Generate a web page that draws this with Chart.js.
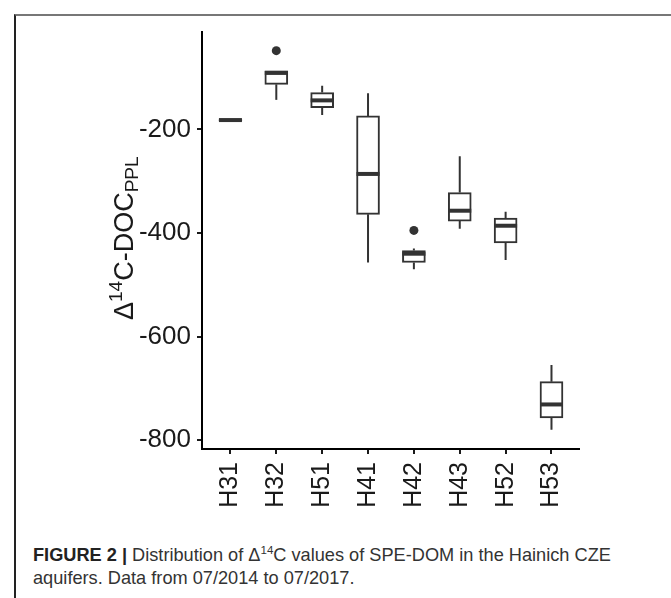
<!DOCTYPE html>
<html>
<head>
<meta charset="utf-8">
<script src="https://cdn.jsdelivr.net/npm/chart.js@4.4.1/dist/chart.umd.min.js"></script>
<style>
  html, body { margin: 0; padding: 0; background: #fff; }
  body { width: 671px; height: 598px; position: relative; overflow: hidden; font-family: "Liberation Sans", Arial, sans-serif; }
  .frame { position: absolute; left: 14px; top: 14px; right: -4px; bottom: -4px; border-top: 2px solid #777; border-left: 2px solid #222; }
  #chart { position: absolute; left: 0; top: 0; }
  .caption { position: absolute; left: 33px; top: 544px; font-size: 18.2px; line-height: 23px; color: #333; white-space: nowrap; }
  .caption b { color: #222; }
  .caption sup { font-size: 11.5px; line-height: 0; vertical-align: 7px; }
</style>
</head>
<body>
<div class="frame"></div>
<canvas id="chart" width="671" height="530"></canvas>
<div class="caption"><b>FIGURE 2 |</b> Distribution of &Delta;<sup>14</sup>C values of SPE-DOM in the Hainich CZE<br>aquifers. Data from 07/2014 to 07/2017.</div>
<script>
// wells, left to right
const categories = ['H31', 'H32', 'H51', 'H41', 'H42', 'H43', 'H52', 'H53'];

// box plot stats
const whiskerLow  = [-183, -143, -172, -457, -470, -392, -452, -780];
const q1          = [-183, -113, -158, -364, -457, -377, -419, -757];
const median      = [-182,  -91, -144, -286, -440, -357, -386, -731];
const q3          = [-181,  -87, -129, -174, -434, -322, -371, -687];
const whiskerHigh = [-181,  -87, -116, -130, -430, -252, -359, -655];

// outliers: index into categories + value
const outlierIdx = [1, 4];
const outlierVal = [-48, -395];

const yTicks = [-200, -400, -600, -800];

const INK = '#333';

const whiskerPlugin = {
    id: 'whiskers',
    afterDatasetsDraw(chart) {
        const { ctx, scales: { x, y } } = chart;
        const bars = chart.getDatasetMeta(0).data;
        ctx.save();
        ctx.strokeStyle = INK;
        categories.forEach((c, i) => {
            const px = x.getPixelForValue(i);
            const w = bars[i] ? bars[i].width : 23;
            ctx.lineWidth = 2;
            ctx.beginPath();
            ctx.moveTo(px, y.getPixelForValue(whiskerHigh[i]));
            ctx.lineTo(px, y.getPixelForValue(q3[i]));
            ctx.moveTo(px, y.getPixelForValue(q1[i]));
            ctx.lineTo(px, y.getPixelForValue(whiskerLow[i]));
            ctx.stroke();
            ctx.lineWidth = 4;
            ctx.beginPath();
            const my = y.getPixelForValue(median[i]);
            ctx.moveTo(px - w / 2, my);
            ctx.lineTo(px + w / 2, my);
            ctx.stroke();
        });
        ctx.restore();
    }
};

// y title with super/subscripts
const yTitlePlugin = {
    id: 'yTitle',
    afterDraw(chart) {
        const ctx = chart.ctx;
        const parts = [
            { t: '\u0394', size: 27, dy: 0 },
            { t: '14', size: 19, dy: -11 },
            { t: 'C-DOC', size: 27, dy: 0 },
            { t: 'PPL', size: 19, dy: 5 },
        ];
        ctx.save();
        ctx.translate(133, 320);
        ctx.rotate(-Math.PI / 2);
        ctx.fillStyle = '#1a1a1a';
        ctx.textBaseline = 'alphabetic';
        ctx.textAlign = 'left';
        let cx = 0;
        parts.forEach(p => {
            ctx.font = p.size + 'px "Liberation Sans", Arial, sans-serif';
            ctx.fillText(p.t, cx, p.dy);
            cx += ctx.measureText(p.t).width;
        });
        ctx.restore();
    }
};

new Chart(document.getElementById('chart'), {
    type: 'bar',
    data: {
        datasets: [
            {
                type: 'bar',
                data: categories.map((c, i) => ({ x: i, y: [q1[i], q3[i]] })),
                backgroundColor: '#fff',
                borderColor: INK,
                borderWidth: 2,
                borderSkipped: false,
                barThickness: 23,
            },
            {
                type: 'scatter',
                data: outlierIdx.map((k, j) => ({ x: k, y: outlierVal[j] })),
                backgroundColor: INK,
                borderWidth: 0,
                pointRadius: 4.5,
            },
        ],
    },
    options: {
        responsive: false,
        animation: false,
        layout: { padding: { left: 0, top: 32, right: 92, bottom: 0 } },
        plugins: { legend: { display: false }, tooltip: { enabled: false } },
        scales: {
            x: {
                type: 'linear',
                offset: false,
                min: -0.62,
                max: 7.6,
                afterBuildTicks: (s) => { s.ticks = categories.map((c, i) => ({ value: i })); },
                afterFit: (s) => { s.height = 81; },
                ticks: {
                    callback: (v) => categories[v],
                    minRotation: 90,
                    maxRotation: 90,
                    padding: 8,
                    color: '#1a1a1a',
                    font: { size: 25, family: '"Liberation Sans", Arial, sans-serif' },
                },
                grid: { offset: false, drawOnChartArea: false, drawTicks: true, tickLength: 5, color: '#1a1a1a', lineWidth: 2 },
                border: { display: true, color: '#000', width: 2 },
            },
            y: {
                min: -817,
                max: -12,
                afterBuildTicks: (s) => { s.ticks = yTicks.map(v => ({ value: v })); },
                afterFit: (s) => { s.width = 202; },
                ticks: {
                    padding: 6,
                    color: '#1a1a1a',
                    font: { size: 26, family: '"Liberation Sans", Arial, sans-serif' },
                },
                grid: { drawOnChartArea: false, drawTicks: true, tickLength: 5, color: '#1a1a1a', lineWidth: 2 },
                border: { display: true, color: '#000', width: 2 },
            },
        },
    },
    plugins: [whiskerPlugin, yTitlePlugin],
});
</script>
</body>
</html>
